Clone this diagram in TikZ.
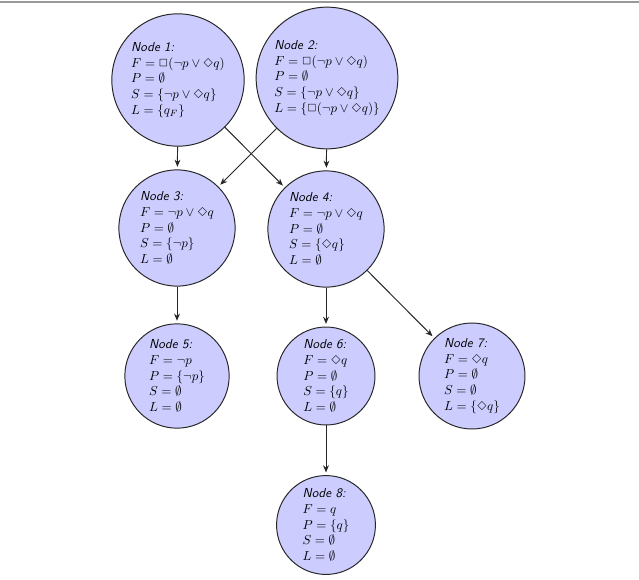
\documentclass[tikz,border=0pt]{standalone}
\usepackage{latexsym}
\usetikzlibrary{arrows.meta}
\definecolor{nodefill}{RGB}{204,204,255}
\tikzset{
  state/.style={circle, draw=black!85, line width=0.75pt, fill=nodefill, align=left, inner sep=3.6pt},
  edge/.style={draw=black!85, line width=0.75pt, -{Stealth[length=5.5pt,width=4.5pt]}, shorten >=2pt}
}
\newcommand{\nodetitle}[1]{\textsf{\itshape Node #1:}}
\begin{document}
\begin{tikzpicture}[x=0.76923pt, y=-0.76923pt]
\useasboundingbox (0,0) rectangle (639,579);
\draw[gray!80, line width=1.5pt] (0,2) -- (639,2);
\node[state] (n1) at (178,80) {\nodetitle{1}\\ $F=\Box(\neg p\vee\Diamond q)$\\ $P=\emptyset$\\ $S=\{\neg p\vee\Diamond q\}$\\ $L=\{q_F\}$};
\node[state] (n2) at (327,78) {\nodetitle{2}\\ $F=\Box(\neg p\vee\Diamond q)$\\ $P=\emptyset$\\ $S=\{\neg p\vee\Diamond q\}$\\ $L=\{\Box(\neg p\vee\Diamond q)\}$};
\node[state] (n3) at (177,228) {\nodetitle{3}\\ $F=\neg p\vee\Diamond q$\\ $P=\emptyset$\\ $S=\{\neg p\}$\\ $L=\emptyset$};
\node[state] (n4) at (326,229) {\nodetitle{4}\\ $F=\neg p\vee\Diamond q$\\ $P=\emptyset$\\ $S=\{\Diamond q\}$\\ $L=\emptyset$};
\node[state] (n5) at (177,376) {\nodetitle{5}\\ $F=\neg p$\\ $P=\{\neg p\}$\\ $S=\emptyset$\\ $L=\emptyset$};
\node[state] (n6) at (326,376) {\nodetitle{6}\\ $F=\Diamond q$\\ $P=\emptyset$\\ $S=\{q\}$\\ $L=\emptyset$};
\node[state] (n7) at (472,376) {\nodetitle{7}\\ $F=\Diamond q$\\ $P=\emptyset$\\ $S=\emptyset$\\ $L=\{\Diamond q\}$};
\node[state] (n8) at (326,525) {\nodetitle{8}\\ $F=q$\\ $P=\{q\}$\\ $S=\emptyset$\\ $L=\emptyset$};
\draw[edge] (n1) -- (n3);
\draw[edge] (n1) -- (n4);
\draw[edge] (n2) -- (n3);
\draw[edge] (n2) -- (n4);
\draw[edge] (n3) -- (n5);
\draw[edge] (n4) -- (n6);
\draw[edge] (n4) -- (n7);
\draw[edge] (n6) -- (n8);
\end{tikzpicture}
\end{document}
